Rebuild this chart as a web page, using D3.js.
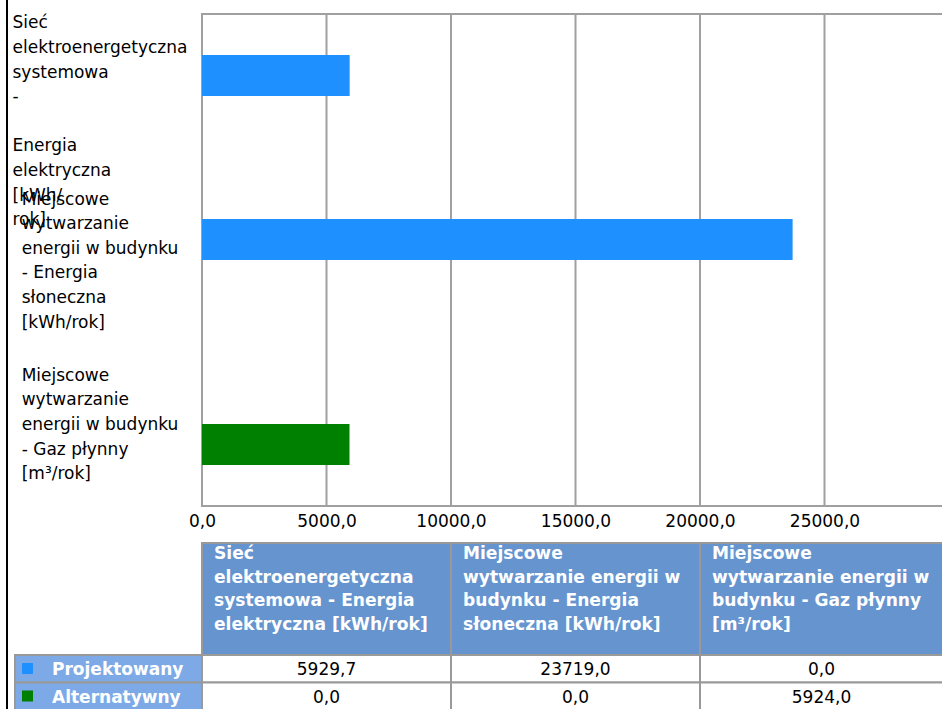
<!DOCTYPE html>
<html>
<head>
<meta charset="utf-8">
<script src="https://cdn.jsdelivr.net/npm/d3@7"></script>
<style>
  html, body { margin: 0; padding: 0; background: #fff; overflow: hidden; }
  svg { display: block; }
  text { font-family: "DejaVu Sans", Tahoma, sans-serif; }
</style>
</head>
<body>
<svg id="chart" width="942" height="709"></svg>
<script>
// ---- data ----
const categories = [
  "Sieć elektroenergetyczna systemowa - Energia elektryczna [kWh/rok]",
  "Miejscowe wytwarzanie energii w budynku - Energia słoneczna [kWh/rok]",
  "Miejscowe wytwarzanie energii w budynku - Gaz płynny [m³/rok]"
];
const categoryLabelLines = [
  ["Sieć", "elektroenergetyczna", "systemowa", "-", "", "Energia", "elektryczna", "[kWh/", "rok]"],
  ["Miejscowe", "wytwarzanie", "energii w budynku", "- Energia", "słoneczna", "[kWh/rok]"],
  ["Miejscowe", "wytwarzanie", "energii w budynku", "- Gaz płynny", "[m³/rok]"]
];
const headerLines = [
  ["Sieć", "elektroenergetyczna", "systemowa - Energia", "elektryczna [kWh/rok]"],
  ["Miejscowe", "wytwarzanie energii w", "budynku - Energia", "słoneczna [kWh/rok]"],
  ["Miejscowe", "wytwarzanie energii w", "budynku - Gaz płynny", "[m³/rok]"]
];
const seriesNames = ["Projektowany", "Alternatywny"];
const projektowany = [5929.7, 23719.0, 0.0];
const alternatywny = [0.0, 0.0, 5924.0];
const xTickValues = [0, 5000, 10000, 15000, 20000, 25000];
const xMax = 30000;

// ---- styles ----
const seriesColors = ["#1E90FF", "#008000"];
const gridColor = "#a0a0a0";
const headerFill = "#6594CF";
const rowLabelFill = "#7DAAE6";
const cellStroke = "#999999";

const series = [projektowany, alternatywny];
const locale = d3.formatLocale({decimal: ",", thousands: "", grouping: [3], currency: ["", ""]});
const fmt = locale.format(".1f");

const svg = d3.select("#chart");

// ---- scales ----
const plotTop = 14, plotBottom = 506;
const x = d3.scaleLinear().domain([0, xMax]).range([202, 949]);
const y = d3.scaleBand().domain(categories).range([plotTop, plotBottom]).paddingInner(0.5).paddingOuter(0.25);
const ys = d3.scaleBand().domain(seriesNames).range([0, y.bandwidth()]);
const col = d3.scaleBand().domain(categories).range([x(0), x(xMax)]);

// outer left border
svg.append("line").attr("x1", 7).attr("x2", 7).attr("y1", 0).attr("y2", 709)
  .attr("stroke", "#000").attr("stroke-width", 2);

// grid lines
svg.append("g").selectAll("line").data(xTickValues.slice(1)).join("line")
  .attr("x1", d => x(d)).attr("x2", d => x(d))
  .attr("y1", plotTop).attr("y2", plotBottom)
  .attr("stroke", gridColor).attr("stroke-width", 2);

// plot border
svg.append("path")
  .attr("d", `M${x(xMax)},${plotTop}H${x(0)}V${plotBottom}H${x(xMax)}`)
  .attr("fill", "none").attr("stroke", gridColor).attr("stroke-width", 2);

// bars
const barData = [];
categories.forEach((c, i) => seriesNames.forEach((s, j) => barData.push({c, s, j, v: series[j][i]})));
svg.append("g").selectAll("rect").data(barData.filter(d => d.v > 0)).join("rect")
  .attr("x", x(0))
  .attr("y", d => y(d.c) + ys(d.s))
  .attr("width", d => x(d.v) - x(0))
  .attr("height", ys.bandwidth())
  .attr("fill", d => seriesColors[d.j]);

// x axis labels
const xAxis = d3.axisBottom(x).tickValues(xTickValues).tickSize(0).tickPadding(0).tickFormat(fmt);
const gx = svg.append("g").attr("transform", `translate(0,${plotBottom + 5})`).call(xAxis);
gx.select(".domain").remove();
gx.selectAll("text").attr("font-size", 17).attr("fill", "#000").attr("font-family", "DejaVu Sans").attr("dy", "0.95em");

// category labels
const lh = 24.6;
const labelG = svg.append("g");
categories.forEach((c, i) => {
  const lines = categoryLabelLines[i];
  const blockH = lines.length * lh;
  const center = y(c) + y.bandwidth() / 2;
  const bandTop = y(c) - y.step() * y.paddingInner() / 2;
  const top = Math.max(bandTop - 4, center - blockH / 2);
  const t = labelG.append("text").attr("font-size", 17).attr("fill", "#000");
  lines.forEach((ln, k) => {
    t.append("tspan").attr("y", top + k * lh + lh / 2 + 6).text(ln);
  });
  let maxW = 0;
  t.selectAll("tspan").each(function () { maxW = Math.max(maxW, this.getComputedTextLength()); });
  t.selectAll("tspan").attr("x", 100 - maxW / 2);
});

// ---- table ----
const headTop = 543, headBottom = 655, rowH = 27.5;
const tg = svg.append("g");
categories.forEach((c, i) => {
  tg.append("rect").attr("x", col(c)).attr("y", headTop).attr("width", col.bandwidth()).attr("height", headBottom - headTop)
    .attr("fill", headerFill).attr("stroke", cellStroke).attr("stroke-width", 2);
  const t = tg.append("text").attr("font-size", 17.1).attr("font-weight", "bold").attr("fill", "#fff");
  headerLines[i].forEach((ln, k) => {
    t.append("tspan").attr("x", col(c) + 12).attr("y", headTop + 16 + k * 23.6).text(ln);
  });
});
seriesNames.forEach((s, j) => {
  const ry = headBottom + j * rowH;
  tg.append("rect").attr("x", 15).attr("y", ry).attr("width", x(0) - 15).attr("height", rowH)
    .attr("fill", rowLabelFill).attr("stroke", cellStroke).attr("stroke-width", 2);
  tg.append("rect").attr("x", 22).attr("y", ry + 8).attr("width", 11).attr("height", 11)
    .attr("fill", seriesColors[j]);
  tg.append("text").attr("x", 52).attr("y", ry + 20).attr("font-size", 17).attr("font-weight", "bold")
    .attr("fill", "#fff").text(s);
  categories.forEach((c, i) => {
    tg.append("rect").attr("x", col(c)).attr("y", ry).attr("width", col.bandwidth()).attr("height", rowH)
      .attr("fill", "#fff").attr("stroke", cellStroke).attr("stroke-width", 2);
    tg.append("text").attr("x", col(c) + col.bandwidth() / 2 - (i === 2 ? 3 : 0)).attr("y", ry + 20)
      .attr("text-anchor", "middle").attr("font-size", 17).attr("fill", "#000")
      .text(fmt(series[j][i]));
  });
});
</script>
</body>
</html>
